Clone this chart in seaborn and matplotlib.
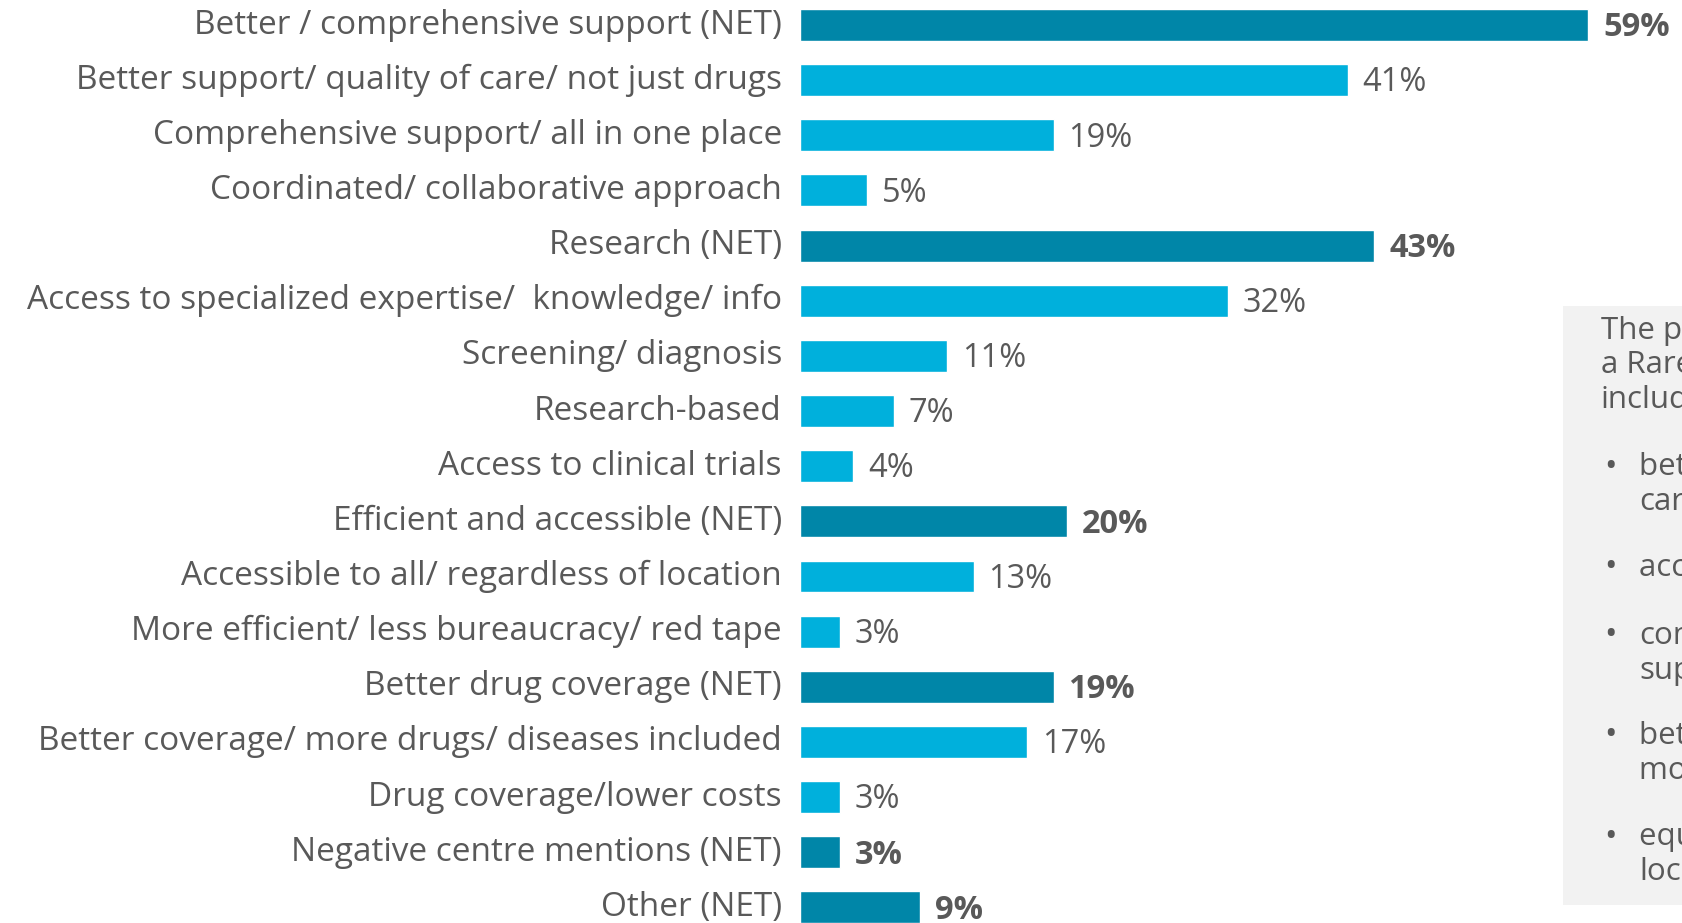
import matplotlib
matplotlib.use('Agg')
import matplotlib.pyplot as plt
import matplotlib.transforms as mtransforms
import seaborn as sns
import pandas as pd
from matplotlib.patches import Rectangle

# Data
labels = [
    'Better / comprehensive support (NET)',
    'Better support/ quality of care/ not just drugs',
    'Comprehensive support/ all in one place',
    'Coordinated/ collaborative approach',
    'Research (NET)',
    'Access to specialized expertise/  knowledge/ info',
    'Screening/ diagnosis',
    'Research-based',
    'Access to clinical trials',
    'Efficient and accessible (NET)',
    'Accessible to all/ regardless of location',
    'More efficient/ less bureaucracy/ red tape',
    'Better drug coverage (NET)',
    'Better coverage/ more drugs/ diseases included',
    'Drug coverage/lower costs',
    'Negative centre mentions (NET)',
    'Other (NET)',
]
values = [59, 41, 19, 5, 43, 32, 11, 7, 4, 20, 13, 3, 19, 17, 3, 3, 9]
is_net = [True, False, False, False, True, False, False, False, False,
          True, False, False, True, False, False, True, True]

box_lines = ['The primary reasons for', 'a Rare Disease Centre', 'include:']
box_bullets = [
    ['better support/ quality of', 'care'],
    ['access to expertise'],
    ['comprehensive', 'support'],
    ['better drug coverage/', 'more drugs'],
    ['equal access regardless of', 'location'],
]

dark = '#0086a8'
light = '#00b0dc'
text_col = '#595959'

df = pd.DataFrame({'label': labels, 'value': values,
                   'kind': ['NET' if n else 'sub' for n in is_net]})

sns.set_style('white')
plt.rcParams['font.family'] = ['Open Sans', 'DejaVu Sans']

W, H = 1683, 923
fig = plt.figure(figsize=(W / 100, H / 100), dpi=100)

row_px = 55.15
top_px = 25
ax = fig.add_axes([800 / W, 0, (W - 800) / W, 1])
sns.barplot(data=df, y='label', x='value', hue='kind', dodge=False,
            palette={'NET': dark, 'sub': light}, orient='h',
            width=0.58, legend=False, ax=ax, saturation=1)

ax.set_xlim(0, (W - 800) / 13.36)
ax.set_ylim((H - top_px) / row_px, -top_px / row_px)
sns.despine(ax=ax, left=True, bottom=True)
ax.set_xticks([])
ax.set_xlabel('')
ax.set_ylabel('')
ax.tick_params(axis='y', length=0, pad=13)
ax.set_yticks(range(len(labels)))
ax.set_yticklabels(labels, fontsize=24, color=text_col)

# nudge category labels up a little, as in the original slide
shift = mtransforms.ScaledTranslation(0, 0.04, fig.dpi_scale_trans)
for t in ax.get_yticklabels():
    t.set_transform(t.get_transform() + shift)

for i, (v, n) in enumerate(zip(values, is_net)):
    ax.text(v + 1.1, i + 0.05, f'{v}%', va='center', ha='left',
            fontsize=23.5, color=text_col,
            fontweight='bold' if n else 'normal')

# grey side box
fig.patches.append(Rectangle((1563 / W, 1 - 905 / H), (W - 1563) / W,
                             (905 - 306) / H, transform=fig.transFigure,
                             facecolor='#f2f2f2', edgecolor='none', zorder=0))
y = 330
for line in box_lines:
    fig.text(1601 / W, 1 - y / H, line, fontsize=22.5, color=text_col, va='center')
    y += 35
bullet_y = [467, 568, 636, 736, 837]
for by, lines in zip(bullet_y, box_bullets):
    fig.text(1604 / W, 1 - by / H, '\u2022', fontsize=24, color=text_col, va='center')
    for k, line in enumerate(lines):
        fig.text(1639 / W, 1 - (by + 35 * k) / H, line, fontsize=22.5,
                 color=text_col, va='center')

fig.savefig('out.png', dpi=100)
